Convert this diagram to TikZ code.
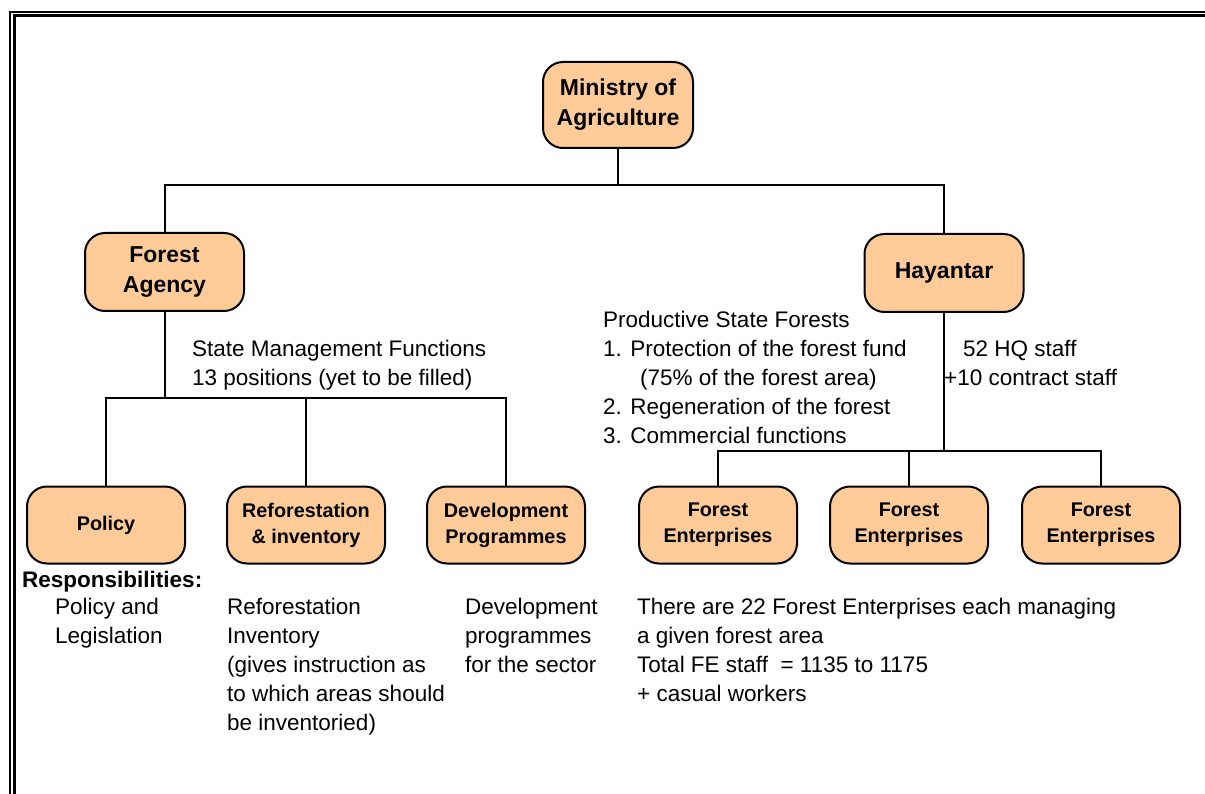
\documentclass[tikz,border=0pt]{standalone}
\usepackage{fontspec}
\setmainfont{Liberation Sans}
\definecolor{peach}{RGB}{255,204,153}
\begin{document}
\begin{tikzpicture}[x=1pt,y=-1pt,
  topbox/.style={draw, line width=2pt, fill=peach, rounded corners=20pt, align=center, inner sep=0pt,
    font=\fontsize{23}{30}\selectfont\bfseries},
  lowbox/.style={draw, line width=2pt, fill=peach, rounded corners=20pt, align=center, inner sep=0pt,
    minimum width=158pt, minimum height=77pt, font=\fontsize{19.8}{26}\selectfont\bfseries},
  conn/.style={line width=2pt},
  lbl/.style={anchor=north west, align=left, inner sep=0pt, font=\fontsize{22.5}{29}\selectfont}]
\useasboundingbox (0,0) rectangle (1205,794);
\fill[white] (0,0) rectangle (1205,794);
\begin{scope}
  \clip (0,0) rectangle (1205,794);
  \draw[line width=2pt] (10,830) -- (10,11.8) -- (1230,11.8);
  \draw[line width=3pt] (14.2,830) -- (14.2,15.7) -- (1230,15.7);
\end{scope}

\node[topbox, minimum width=150pt, minimum height=86pt] (min) at (618,105) {Ministry of\\Agriculture};
\node[topbox, minimum width=159pt, minimum height=78pt] (fa) at (164.5,272) {Forest\\Agency};
\node[topbox, minimum width=159pt, minimum height=78pt] (hay) at (944,273) {Hayantar};

\node[lowbox] (pol) at (106,525) {Policy};
\node[lowbox] (ref) at (306,525) {Reforestation\\\& inventory};
\node[lowbox] (dev) at (506,525) {Development\\Programmes};
\node[lowbox] (fe1) at (718,525) {Forest\\Enterprises};
\node[lowbox] (fe2) at (909,525) {Forest\\Enterprises};
\node[lowbox] (fe3) at (1101,525) {Forest\\Enterprises};

\coordinate (j1) at (618,185);
\coordinate (j2) at (164.5,398);
\coordinate (j3) at (944,451);
\draw[conn] (min.south) -- (j1);
\draw[conn] (fa.north) |- (j1) -| (hay.north);
\draw[conn] (fa.south) -- (j2);
\draw[conn] (pol.north) |- (j2) -| (dev.north);
\draw[conn] (ref.north) -- (ref.north |- j2);
\draw[conn] (hay.south) -- (j3);
\draw[conn] (fe1.north) |- (j3) -| (fe3.north);
\draw[conn] (fe2.north) -- (fe2.north |- j3);

\node[lbl] (smf) at (192,340) {State Management Functions\\13 positions (yet to be filled)};
\node[lbl] (psf) at (603,311) {Productive State Forests\\1. Protection of the forest fund\\\hspace*{37pt}(75\% of the forest area)\\2. Regeneration of the forest\\3. Commercial functions};
\node[lbl] (hq) at (944,340) {\hspace*{19pt}52 HQ staff\\+10 contract staff};
\node[lbl, font=\fontsize{22.5}{29}\selectfont\bfseries] (resp) at (22,571) {Responsibilities:};
\node[lbl] (polt) at (55,598) {Policy and\\Legislation};
\node[lbl] (reft) at (227,598) {Reforestation\\Inventory\\(gives instruction as\\to which areas should\\be inventoried)};
\node[lbl] (devt) at (465,598) {Development\\programmes\\for the sector};
\node[lbl] (fet) at (637,598) {There are 22 Forest Enterprises each managing\\a given forest area\\Total FE staff \ = 1135 to 1175\\+ casual workers};
\end{tikzpicture}
\end{document}
